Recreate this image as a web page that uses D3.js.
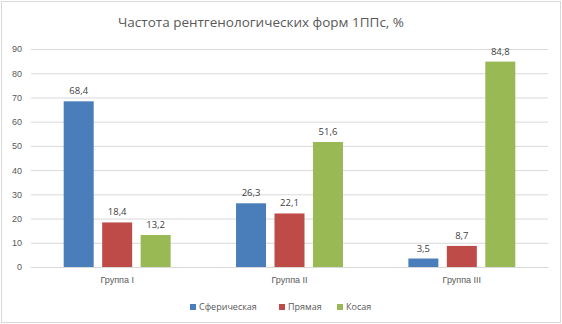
<!DOCTYPE html>
<html>
<head>
<meta charset="utf-8">
<script src="https://cdn.jsdelivr.net/npm/d3@7"></script>
<style>
  body { margin: 0; background: #fff; }
  svg { display: block; font-family: "Open Sans", "Liberation Sans", sans-serif; }
</style>
</head>
<body>
<div id="chart"></div>
<script>
const groups = ["Группа I", "Группа II", "Группа III"];
const seriesNames = ["Сферическая", "Прямая", "Косая"];
const spherical = [68.4, 26.3, 3.5];
const straight = [18.4, 22.1, 8.7];
const oblique = [13.2, 51.6, 84.8];
const yTicks = [0, 10, 20, 30, 40, 50, 60, 70, 80, 90];
const colors = ["#4a7ebb", "#be4b48", "#98b954"];

const width = 562;
const height = 324;
const margin = { top: 49, right: 14, bottom: 57, left: 31 };

const values = [spherical, straight, oblique];
const rows = [];
groups.forEach((g, gi) => {
  seriesNames.forEach((s, si) => {
    rows.push({ group: g, series: s, value: values[si][gi] });
  });
});

const svg = d3.select("#chart")
  .append("svg")
  .attr("width", width)
  .attr("height", height);

svg.append("rect")
  .attr("x", 1.5).attr("y", 1.5)
  .attr("width", width - 3).attr("height", height - 3)
  .attr("fill", "#fff")
  .attr("stroke", "#d9d9d9");

const x = d3.scaleBand()
  .domain(groups)
  .range([margin.left, width - margin.right]);

const x1 = d3.scaleBand()
  .domain(seriesNames)
  .range([0, x.bandwidth()])
  .paddingInner(0.22)
  .paddingOuter(0.85);

const y = d3.scaleLinear()
  .domain([0, 90])
  .range([height - margin.bottom, margin.top]);

const fmt = (v) => d3.format(".1f")(v).replace(".", ",");

// grid + y labels
const yAxis = svg.append("g")
  .attr("transform", `translate(${margin.left},0)`)
  .call(d3.axisLeft(y).tickValues(yTicks).tickSize(-(width - margin.left - margin.right)).tickPadding(9));
yAxis.select(".domain").remove();
yAxis.selectAll(".tick line").attr("stroke", "#d9d9d9");
yAxis.selectAll(".tick text")
  .attr("fill", "#595959")
  .attr("font-size", 9);

// bars
const color = d3.scaleOrdinal().domain(seriesNames).range(colors);

svg.append("g")
  .selectAll("rect")
  .data(rows)
  .join("rect")
  .attr("x", (d) => x(d.group) + x1(d.series))
  .attr("y", (d) => y(d.value))
  .attr("width", x1.bandwidth())
  .attr("height", (d) => y(0) - y(d.value))
  .attr("fill", (d) => color(d.series));

// data labels
svg.append("g")
  .attr("text-anchor", "middle")
  .attr("fill", "#404040")
  .attr("font-size", 9.5)
  .selectAll("text")
  .data(rows)
  .join("text")
  .attr("x", (d) => x(d.group) + x1(d.series) + x1.bandwidth() / 2)
  .attr("y", (d) => y(d.value) - 7)
  .text((d) => fmt(d.value));

// x axis
const xAxis = svg.append("g")
  .attr("transform", `translate(0,${height - margin.bottom})`)
  .call(d3.axisBottom(x).tickSize(0).tickPadding(10));
xAxis.select(".domain").attr("stroke", "#d9d9d9");
xAxis.selectAll(".tick text")
  .attr("fill", "#595959")
  .attr("font-size", 9);

// title
svg.append("text")
  .attr("x", 261)
  .attr("y", 27)
  .attr("text-anchor", "middle")
  .attr("fill", "#595959")
  .attr("font-size", 13.5)
  .text("Частота рентгенологических форм 1ППс, %");

// legend
const legendItems = [
  { name: seriesNames[0], x: 190 },
  { name: seriesNames[1], x: 279 },
  { name: seriesNames[2], x: 337 }
];
const legend = svg.append("g")
  .selectAll("g")
  .data(legendItems)
  .join("g")
  .attr("transform", (d) => `translate(${d.x},307)`);
legend.append("rect")
  .attr("x", 0).attr("y", -3)
  .attr("width", 6).attr("height", 6)
  .attr("fill", (d) => color(d.name));
legend.append("text")
  .attr("x", 9)
  .attr("dy", "0.35em")
  .attr("fill", "#595959")
  .attr("font-size", 9)
  .text((d) => d.name);
</script>
</body>
</html>
